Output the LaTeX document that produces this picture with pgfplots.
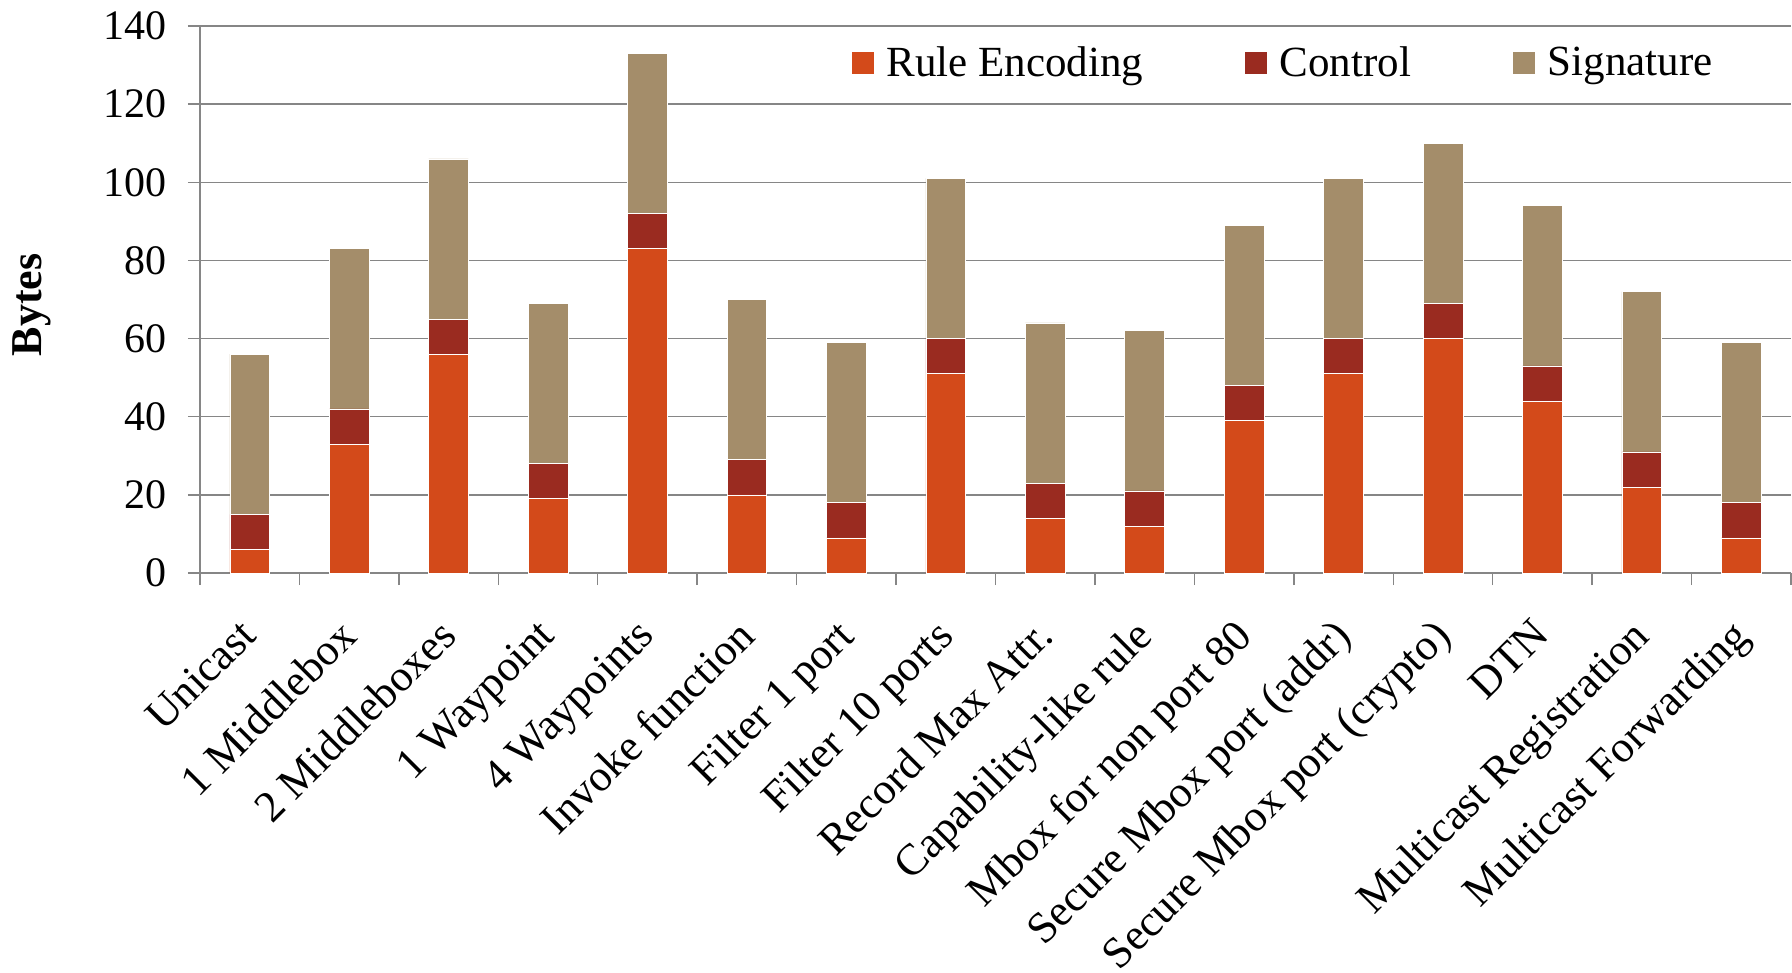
\documentclass[border=0pt]{standalone}
\usepackage{fontspec}
\setmainfont{Liberation Serif}
\usepackage{pgfplots}
\pgfplotsset{compat=1.18}
\definecolor{rulec}{HTML}{D34A1A}
\definecolor{ctrlc}{HTML}{9A2B20}
\definecolor{sigc}{HTML}{A48D6A}
\definecolor{gridc}{HTML}{868686}
\begin{document}
\begin{tikzpicture}
\begin{axis}[
  at={(0,0)}, anchor=south west,
  scale only axis, width=795.5pt, height=273.5pt,
  ybar stacked, bar width=0.4,
  xmin=-0.5, xmax=15.5, ymin=0, ymax=140,
  ytick={0,20,...,140},
  xtick={-0.5,0.5,...,15.5},
  x tick label as interval,
  xticklabels={Unicast,1 Middlebox,2 Middleboxes,1 Waypoint,4 Waypoints,Invoke function,Filter 1 port,Filter 10 ports,Record Max Attr.,Capability-like rule,Mbox for non port 80,Secure Mbox port (addr),Secure Mbox port (crypto),DTN,Multicast Registration,Multicast Forwarding},
  xticklabel style={rotate=45, anchor=north east, font=\fontsize{22}{26}\selectfont, yshift=-3.5pt, xshift=-12pt},
  yticklabel style={font=\fontsize{21}{25}\selectfont, xshift=-7pt},
  /pgf/number format/assume math mode=true,
  axis lines*=left,
  axis line style={gridc, line width=0.7pt},
  tick style={gridc, line width=0.7pt},
  tick align=outside, major tick length=6pt,
  ymajorgrids, major grid style={gridc, line width=0.7pt},
  ylabel={\textbf{Bytes}},
  ylabel style={at={(axis description cs:-0.106,0.49)}, anchor=center, font=\fontsize{22}{26}\selectfont},
  legend columns=3,
  legend style={at={(0.405,0.932)}, anchor=west, draw=none, fill=none,
    font=\fontsize{21.5}{25}\selectfont,
    /tikz/every even column/.append style={column sep=48.5pt},
    /tikz/every odd column/.append style={column sep=4pt}},
  legend image code/.code={\fill[#1] (0pt,-5.75pt) rectangle (11.5pt,5.75pt);},
]
\addplot[fill=rulec, draw=white, line width=0.3pt] coordinates {(0,6) (1,33) (2,56) (3,19) (4,83) (5,20) (6,9) (7,51) (8,14) (9,12) (10,39) (11,51) (12,60) (13,44) (14,22) (15,9)};
\addplot[fill=ctrlc, draw=white, line width=0.3pt] coordinates {(0,9) (1,9) (2,9) (3,9) (4,9) (5,9) (6,9) (7,9) (8,9) (9,9) (10,9) (11,9) (12,9) (13,9) (14,9) (15,9)};
\addplot[fill=sigc, draw=white, line width=0.3pt] coordinates {(0,41) (1,41) (2,41) (3,41) (4,41) (5,41) (6,41) (7,41) (8,41) (9,41) (10,41) (11,41) (12,41) (13,41) (14,41) (15,41)};
\legend{Rule Encoding, Control, Signature}
\end{axis}
\pgfresetboundingbox
\path (-100pt,-200pt) rectangle (796pt,286.5pt);
\end{tikzpicture}
\end{document}
